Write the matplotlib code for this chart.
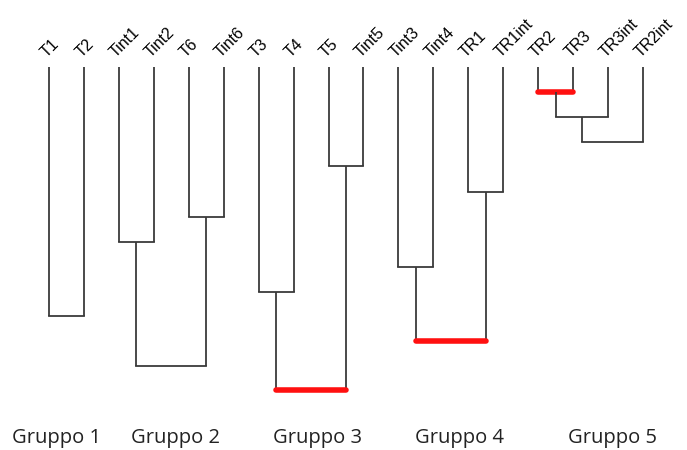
import matplotlib
matplotlib.use("Agg")
import matplotlib.pyplot as plt

# leaf labels, left to right
leaves = ["T1", "T2", "Tint1", "Tint2", "T6", "Tint6", "T3", "T4", "T5",
          "Tint5", "Tint3", "Tint4", "TR1", "TR1int", "TR2", "TR3",
          "TR3int", "TR2int"]

# merges: (left node, right node, height); nodes >= 18 are earlier merges
merges = [
    (0, 1, 0.771),      # 18
    (2, 3, 0.541),      # 19
    (4, 5, 0.463),      # 20
    (19, 20, 0.926),    # 21
    (6, 7, 0.696),      # 22
    (8, 9, 0.307),      # 23
    (22, 23, 1.000),    # 24
    (10, 11, 0.618),    # 25
    (12, 13, 0.388),    # 26
    (25, 26, 0.848),    # 27
    (14, 15, 0.078),    # 28
    (28, 16, 0.154),    # 29
    (29, 17, 0.233),    # 30
]
red_merges = [6, 9, 10]

groups = ["Gruppo 1", "Gruppo 2", "Gruppo 3", "Gruppo 4", "Gruppo 5"]
group_x = [0.22, 3.61, 7.70, 11.76, 16.14]

n = len(leaves)
xpos = {i: float(i) for i in range(n)}
ypos = {i: 0.0 for i in range(n)}

fig = plt.figure(figsize=(6.87, 4.5), dpi=100)
ax = fig.add_axes([0, 0, 1, 1])

for k, (a, b, h) in enumerate(merges):
    xa, xb = xpos[a], xpos[b]
    col = "#3a3a3a"
    ax.plot([xa, xa], [ypos[a], h], color=col, lw=1.3, solid_capstyle="butt")
    ax.plot([xb, xb], [ypos[b], h], color=col, lw=1.3, solid_capstyle="butt")
    if k in red_merges:
        ax.plot([xa, xb], [h, h], color="#ff1010", lw=4, solid_capstyle="round")
    else:
        ax.plot([xa, xb], [h, h], color=col, lw=1.3)
    xpos[n + k] = (xa + xb) / 2
    ypos[n + k] = h

for i, name in enumerate(leaves):
    ax.text(i - 0.08, -0.028, name, rotation=45, rotation_mode="anchor",
            ha="left", va="baseline", fontsize=11.5, family="Liberation Sans",
            color="black")

for gx, g in zip(group_x, groups):
    ax.text(gx, 1.165, g, ha="center", va="baseline", fontsize=14.5,
            family="Open Sans", color="#222222")

ax.set_xlim(-1.402, 18.259)
ax.set_ylim(1.186, -0.2074)
ax.axis("off")

fig.savefig("out.png", dpi=100)
